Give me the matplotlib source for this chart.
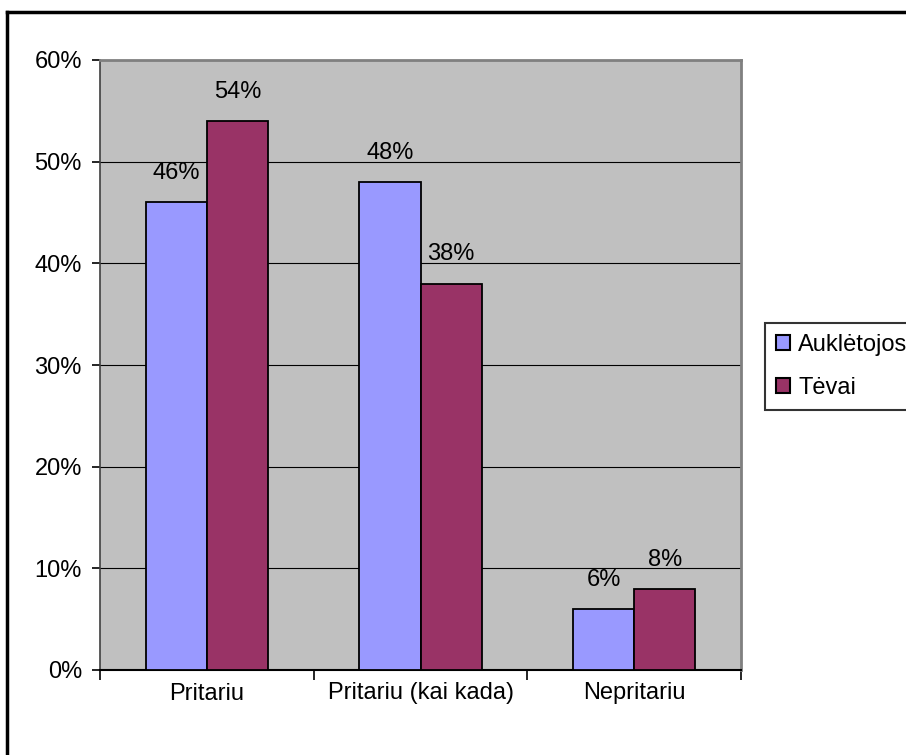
import matplotlib.pyplot as plt
from matplotlib.lines import Line2D
from matplotlib.ticker import PercentFormatter

categories = ['Pritariu', 'Pritariu (kai kada)', 'Nepritariu']
series_names = ['Auklėtojos', 'Tėvai']
aukletojos = [46, 48, 6]
tevai = [54, 38, 8]
colors = ['#9999FF', '#993366']

plt.rcParams['font.family'] = ['Liberation Sans', 'DejaVu Sans']
plt.rcParams['font.size'] = 17

fig = plt.figure(figsize=(9.06, 7.55), dpi=100)
ax = fig.add_axes([100 / 906, 85 / 755, 641 / 906, 610 / 755])
ax.set_facecolor('#C0C0C0')

w = 1 / 3.5
x = list(range(len(categories)))
for i, (vals, name) in enumerate([(aukletojos, series_names[0]), (tevai, series_names[1])]):
    pos = [p - w / 2 + i * w for p in x]
    bars = ax.bar(pos, vals, width=w, color=colors[i], edgecolor='black',
                  linewidth=1.3, label=name, zorder=3)
    for b, v in zip(bars, vals):
        ax.annotate(f'{v}%', (b.get_x() + b.get_width() / 2, v),
                    xytext=(0, 21), textcoords='offset points',
                    ha='center', va='center', fontsize=17)

ax.set_xlim(-0.5, 2.5)
ax.set_ylim(0, 60)
ax.set_yticks(range(0, 61, 10))
ax.yaxis.set_major_formatter(PercentFormatter(decimals=0))
ax.grid(axis='y', color='black', linewidth=0.8, zorder=1)
ax.set_xticks(x)
ax.set_xticklabels(categories)
ax.set_xticks([-0.5, 0.5, 1.5, 2.5], minor=True)
ax.tick_params(axis='x', which='major', length=0, pad=9)
ax.tick_params(axis='x', which='minor', length=7, width=1.2, color='black')
ax.tick_params(axis='y', length=6, width=1.2, pad=7)

ax.spines['top'].set_color('#808080')
ax.spines['right'].set_color('#808080')
ax.spines['top'].set_linewidth(2)
ax.spines['right'].set_linewidth(2)
ax.spines['left'].set_color('#404040')
ax.spines['bottom'].set_color('black')
ax.spines['left'].set_linewidth(1.2)
ax.spines['bottom'].set_linewidth(1.5)

leg = fig.legend(loc='upper left', bbox_to_anchor=(765 / 906, 1 - 323 / 755),
                 frameon=True, fancybox=False, borderaxespad=0,
                 handlelength=0.6, handleheight=0.6, handletextpad=0.35,
                 labelspacing=0.9, borderpad=0.45, fontsize=17)
leg.get_frame().set_edgecolor('black')
leg.get_frame().set_linewidth(1.5)
for h in leg.legend_handles:
    h.set_linewidth(1.5)

# outer chart border (left and top only visible)
fig.add_artist(Line2D([7 / 906, 7 / 906], [0, 1 - 12 / 755], transform=fig.transFigure,
                      color='black', linewidth=2.5))
fig.add_artist(Line2D([7 / 906, 1], [1 - 12 / 755, 1 - 12 / 755], transform=fig.transFigure,
                      color='black', linewidth=2.5))

fig.savefig('out.png', dpi=100)
